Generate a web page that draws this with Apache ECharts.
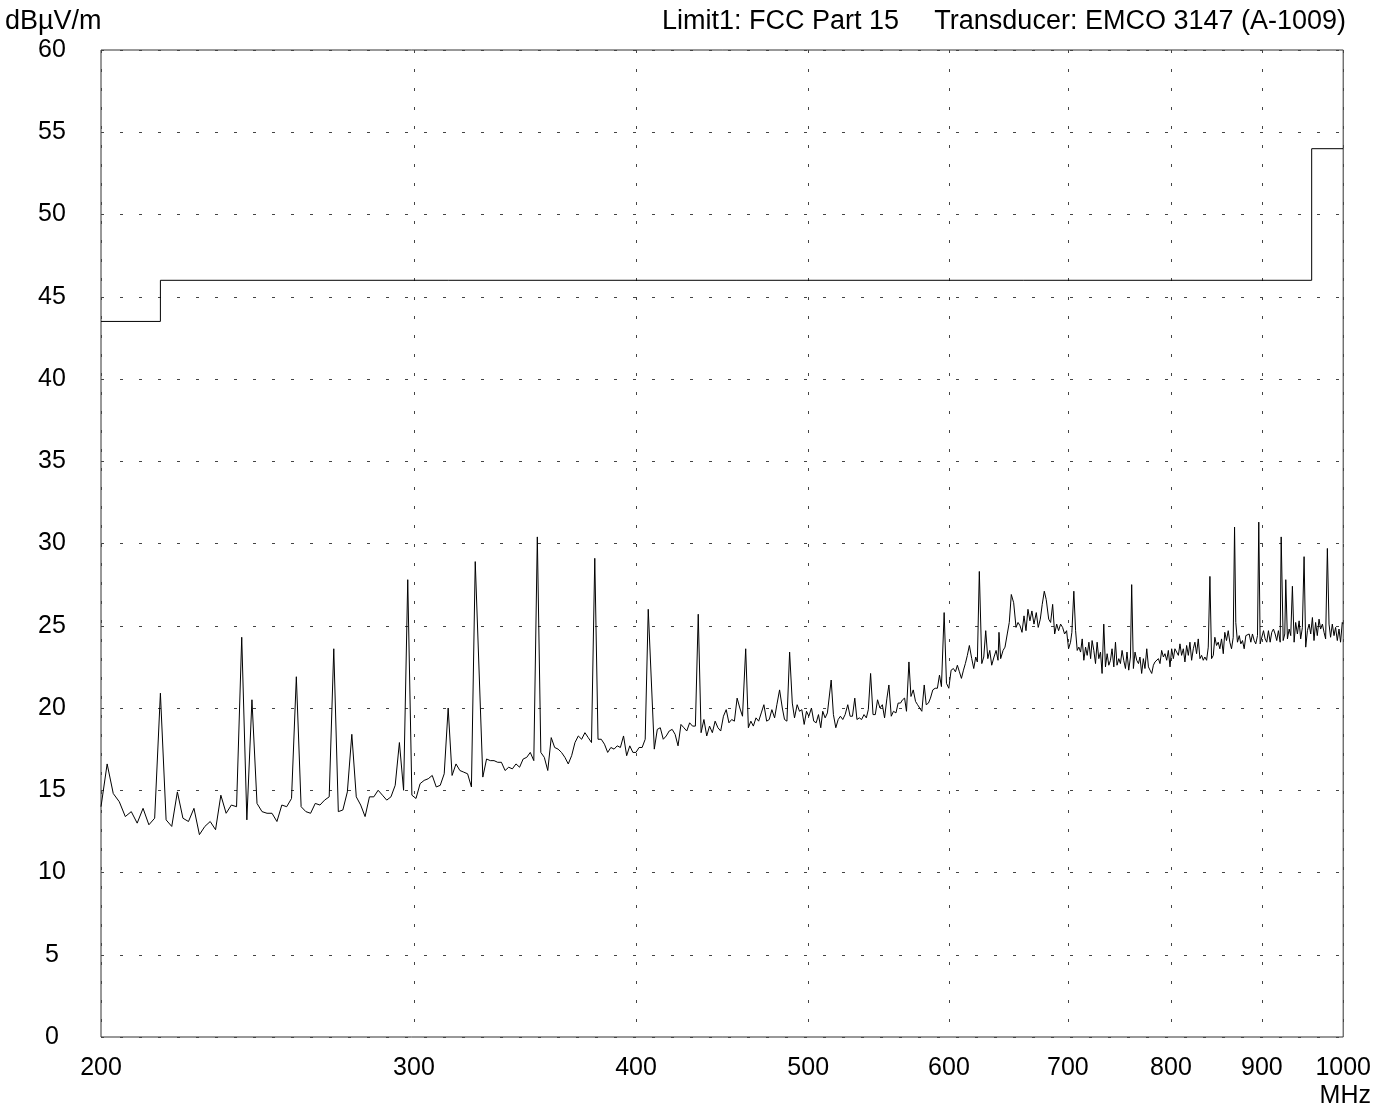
<!DOCTYPE html>
<html>
<head>
<meta charset="utf-8">
<script src="https://cdn.jsdelivr.net/npm/echarts@6/dist/echarts.min.js"></script>
<style>
html,body{margin:0;padding:0;background:#fff;overflow:hidden;}
#chart{width:1374px;height:1113px;}
</style>
</head>
<body>
<div id="chart"></div>
<script>
// ---- axis ticks ----
const xTickValues = [200, 300, 400, 500, 600, 700, 800, 900, 1000];
const yMin = 0, yMax = 60, yStep = 5;

// ---- header texts ----
const unitLabel = 'dBµV/m';
const limitLabel = 'Limit1: FCC Part 15';
const transducerLabel = 'Transducer: EMCO 3147 (A-1009)';
const freqUnit = 'MHz';

// ---- limit line (FCC Part 15) ----
const limitFreq  = [200, 216, 216, 960, 960, 1000];
const limitLevel = [43.5, 43.5, 46, 46, 54, 54];

// ---- measured trace, in frequency chunks (MHz / dBµV/m) ----
const freqA = [200,201.6,203.2,204.8,206.4,208,209.6,211.2,212.8,214.4,
  216,217.6,219.2,220.8,222.4,224,225.6,227.2,228.8,230.4,
  232,233.6,235.2,236.8,238.4,240,241.6,243.2,244.8,246.4,
  248,249.6,251.2,252.8,254.4,256,257.6,259.2,260.8,262.4,
  264,265.6,267.2,268.8,270.4,272,273.6,275.2,276.8,278.4,
  280,281.6,283.2,284.8,286.4,288,289.6,291.2,292.8,294.4,
  296,297.6,299.2];
const levelA = [14.0,16.6,14.8,14.3,13.4,13.7,13.0,13.9,12.9,13.3,
  20.9,13.2,12.8,14.9,13.3,13.1,13.9,12.3,12.8,13.1,
  12.6,14.7,13.6,14.1,14.0,24.3,13.2,20.5,14.2,13.7,
  13.6,13.6,13.1,14.1,14.0,14.5,21.9,14.0,13.7,13.6,
  14.2,14.1,14.4,14.6,23.6,13.7,13.8,14.9,18.4,14.6,
  14.1,13.4,14.6,14.6,15.0,14.7,14.4,14.6,15.3,17.9,
  15.0,27.8,14.7];

const freqB = [300.8,302.4,304,305.6,307.2,308.8,310.4,312,313.6,315.2,
  316.8,318.4,320,321.6,323.2,324.8,328,329.6,331.2,332.8,
  334.4,336,337.6,339.2,340.8,342.4,344,345.6,347.2,348.8,
  350.4,352,353.6,355.2,356.8,358.4,360,361.6,363.2,364.8,
  366.4,368,369.6,371.2,372.8,374.4,376,377.6,379.2,380.8,
  382.4,384,385.6,387.2,388.8,390.4,392,393.6,395.2,396.8,
  398.4];
const levelB = [14.5,15.4,15.6,15.7,15.9,15.2,15.3,16.0,20.0,15.9,
  16.6,16.2,16.1,16.0,15.2,28.9,15.8,16.9,16.8,16.8,
  16.7,16.7,16.2,16.4,16.3,16.6,16.4,16.9,17.0,17.3,
  16.8,30.4,17.3,17.0,16.2,18.2,17.6,17.5,17.3,17.0,
  16.6,17.1,17.9,18.3,18.1,18.5,18.2,17.9,29.1,18.1,
  18.1,17.8,17.3,17.6,17.5,17.7,17.6,18.3,17.1,17.7,
  17.3];

const freqC = [400,401.6,403.2,404.8,406.4,409.6,411.2,412.8,414.4,416,
  417.6,419.2,420.8,422.4,424,425.6,427.2,428.8,430.4,432,
  433.6,435.2,436.8,438.4,440,441.6,443.2,444.8,446.4,448,
  449.6,451.2,452.8,454.4,456,457.6,459.2];
const levelC = [17.3,17.6,17.6,18.1,26.0,17.5,18.7,18.8,18.1,18.3,
  18.6,18.7,18.4,17.7,19.0,18.8,18.6,19.1,18.9,18.9,
  25.7,18.5,19.3,18.3,18.9,18.5,19.2,18.8,18.6,19.5,
  19.9,19.1,19.3,19.2,20.6,20.0,19.5];

const freqD = [461.1,462.7,464.2,465.7,467.3,468.9,470.5,472.1,473.8,475.4,
  477.0,478.7,480.1,481.8,483.5,484.9,486.4,488.1,489.8,491.2,
  492.9,494.4,495.9,497.4,498.9,500.4,502.1,503.6,505.2,506.7,
  508.2,509.5,511.1,512.6,515.1,516.6,518.2,519.8,521.3,522.9,
  524.5,526.3,527.9,529.5,531.1,532.6,534.2,535.8,537.5,539.1,
  540.5,542.1,543.8,545.4,547.0,548.7,550.4,552.0,553.7,555.1,
  556.8,558.4,560.2];
const levelD = [23.6,18.8,19.2,18.9,19.4,19.2,19.7,20.2,19.2,19.3,
  19.9,19.4,20.2,21.1,20.0,19.3,19.2,23.4,20.3,19.4,
  20.2,19.8,19.9,19.0,19.8,19.5,20.0,19.2,19.1,19.6,
  18.8,19.8,19.4,19.7,21.7,19.6,18.8,19.3,19.5,19.3,
  19.6,20.2,19.5,19.5,20.6,19.3,19.4,19.3,19.6,19.4,
  19.9,22.1,19.6,19.6,20.5,20.0,20.2,19.4,20.6,21.4,
  19.5,19.8,19.7];

const freqE = [561.8,563.5,565.0,566.5,567.9,569.7,571.2,572.9,574.6,576.1,
  577.5,579.3,581.1,582.6,584.3,585.8,587.6,589.4,591.1,592.7,
  594.2,596.3,598.1,599.9,601.7,603.5,605.1,606.6,608.2,609.8,
  611.4,612.9,614.5,616.1,618.0,619.6,621.2,622.5,624.1,626.1,
  627.7,629.3,631.0,632.6,634.2,636.1,637.8,639.4,640.2,641.6,
  643.6,645.2,647.1,648.8,650.5,652.5,654.5,656.2,657.9,659.6,
  661.3,663.0,664.7,666.4,668.1,669.9,671.9,673.6,675.4,677.1,
  678.9,680.6,682.8,684.5,686.3,688.1,689.9,691.6,693.4,695.2];
const levelE = [20.3,20.3,20.5,20.6,19.8,22.8,20.7,21.1,20.4,20.2,
  20.3,19.8,21.4,20.2,20.3,20.6,21.1,21.2,21.2,22.0,
  21.3,25.8,21.5,21.2,22.3,22.4,22.2,22.6,22.2,21.8,
  22.3,22.7,23.2,23.8,23.0,22.4,23.1,22.8,28.3,22.7,
  23.1,24.7,23.0,23.5,22.6,23.1,23.5,22.9,24.6,23.0,
  23.5,23.7,24.5,25.2,26.9,26.4,24.9,25.2,25.0,24.6,
  25.6,24.7,26.0,25.3,25.9,25.1,25.8,24.9,25.4,26.3,
  27.1,26.6,25.4,25.2,26.3,24.5,25.1,24.7,25.1,24.9];

const freqF = [697.0,698.8,700.6,702.4,703.6,705.4,707.0,708.5,710.0,711.6,
  713.1,714.6,716.2,717.7,719.3,720.9,722.3,723.9,725.5,727.0,
  728.6,730.2,731.7,733.3,734.9,736.5,738.1,739.7,741.2,742.9,
  744.5,746.0,747.7,749.3,750.9,752.5,754.2,755.7,757.4,759.1,
  760.3,762.0,763.6,765.3,767.0,768.5,770.2,771.9,773.5,775.3,
  777.0,778.6,780.3,782.0,783.6,785.3,787.1,788.7,790.4,792.2,
  793.8,795.6,797.3,799.0,800.7,802.5,804.1,805.9,807.7,809.4,
  811.1,812.9,814.6,816.4,818.2,819.9,821.7,823.5,825.2,827.0,
  828.8,830.6,832.4,834.2,835.9,837.8,839.6,841.4,843.2,845.1,
  846.8,848.7,850.5,852.3,854.2,856.1,857.8,859.7];
const levelF = [24.5,24.7,23.6,24.0,24.6,27.1,24.7,23.5,23.7,23.4,
  24.2,22.9,23.7,23.2,24.0,23.0,24.1,23.5,22.7,24.0,
  23.0,23.4,22.1,25.1,22.5,23.3,22.6,22.9,23.6,22.5,
  24.0,22.6,23.0,22.7,23.5,22.9,22.4,23.4,22.3,23.1,
  27.5,22.4,23.4,22.9,22.7,23.1,22.1,23.0,22.4,23.6,
  22.5,22.3,22.1,22.6,22.8,22.9,23.0,22.7,23.5,23.1,
  23.3,22.9,23.5,22.5,23.6,23.0,23.6,23.4,23.2,23.9,
  23.2,23.6,22.8,23.8,23.2,24.0,22.9,23.6,24.0,23.3,
  24.2,23.0,23.2,22.9,23.1,22.9,23.7,28.0,23.0,23.2,
  24.3,23.8,24.0,23.6,24.2,23.3,24.6,24.1];

const freqG = [861.6,863.4,865.3,867.2,868.7,870.1,872.0,874.0,875.8,877.7,
  879.6,881.5,883.4,885.3,887.2,889.1,891.1,892.9,894.9,896.4,
  898.0,899.9,901.9,903.8,905.7,907.7,909.7,911.6,913.6,915.6,
  917.5,919.5,921.6,922.8,925.2,927.1,928.3,930.3,932.4,934.3,
  936.3,938.4,940.3,942.4,944.5,946.4,948.5,950.6,952.6,954.7,
  956.8,958.8,960.9,962.9,964.9,967.0,969.2,971.2,973.4,975.5,
  977.5,979.7,981.8,983.8,986.0,988.2,990.2,992.4,994.6,996.6,
  998.8,1000];
const levelG = [24.7,24.0,23.6,24.3,31.0,25.2,24.0,24.4,23.9,24.1,
  23.6,24.4,24.3,24.5,24.0,24.5,24.1,23.9,24.4,31.3,
  23.9,24.0,24.7,24.2,24.0,24.7,24.0,24.6,24.8,24.5,
  24.1,24.7,24.0,30.4,24.1,24.5,27.8,24.2,24.8,24.4,
  27.4,24.0,25.2,24.5,25.3,24.2,24.9,29.2,23.7,24.7,
  25.1,24.5,25.5,24.1,25.2,24.4,25.4,24.8,25.1,24.6,
  24.2,29.7,25.1,24.3,25.1,24.4,24.9,24.1,24.8,24.0,
  25.2,25.1];

// ---- build series data ----
const traceFreq  = [].concat(freqA, freqB, freqC, freqD, freqE, freqF, freqG);
const traceLevel = [].concat(levelA, levelB, levelC, levelD, levelE, levelF, levelG);
const traceData = traceFreq.map((f, i) => [f, traceLevel[i]]);
const limitData = limitFreq.map((f, i) => [f, limitLevel[i]]);

const FONT = '"Liberation Sans", Arial, Helvetica, sans-serif';
const chart = echarts.init(document.getElementById('chart'), null, {renderer: 'canvas'});
chart.setOption({
  animation: false,
  backgroundColor: '#fff',
  grid: {left: 101, right: 27, top: 50, bottom: 76, show: true,
         borderColor: '#333', borderWidth: 1, backgroundColor: 'transparent'},
  xAxis: {
    type: 'log', logBase: 10, min: 200, max: 1000,
    axisLine: {show: false},
    axisTick: {show: false, customValues: xTickValues},
    axisLabel: {customValues: xTickValues, fontSize: 25, color: '#000',
                fontFamily: FONT, margin: 19, formatter: v => String(Math.round(v))},
    splitLine: {show: true, lineStyle: {color: '#444', width: 1, type: [3, 16]}},
    minorSplitLine: {show: false}
  },
  yAxis: {
    type: 'value', min: yMin, max: yMax, interval: yStep,
    axisLine: {show: false},
    axisTick: {show: false},
    axisLabel: {fontSize: 25, color: '#000', fontFamily: FONT, margin: 49, align: 'center',
                padding: [6, 0, 0, 0]},
    splitLine: {show: true, lineStyle: {color: '#444', width: 1, type: [3, 16]}}
  },
  graphic: [
    {type: 'text', left: 5, top: 8, style: {text: unitLabel, fontSize: 27, fontFamily: FONT, fill: '#000'}},
    {type: 'text', left: 662, top: 8, style: {text: limitLabel, fontSize: 27, fontFamily: FONT, fill: '#000'}},
    {type: 'text', right: 28, top: 8, style: {text: transducerLabel, fontSize: 27, fontFamily: FONT, fill: '#000'}},
    {type: 'text', right: 3, top: 1084, style: {text: freqUnit, fontSize: 25, fontFamily: FONT, fill: '#000'}}
  ],
  series: [
    {type: 'line', name: 'Limit', data: limitData, showSymbol: false, symbol: 'none',
     lineStyle: {color: '#000', width: 1}, silent: true, z: 3},
    {type: 'line', name: 'Trace', data: traceData, showSymbol: false, symbol: 'none',
     lineStyle: {color: '#000', width: 1}, silent: true, z: 4}
  ]
});
</script>
</body>
</html>
